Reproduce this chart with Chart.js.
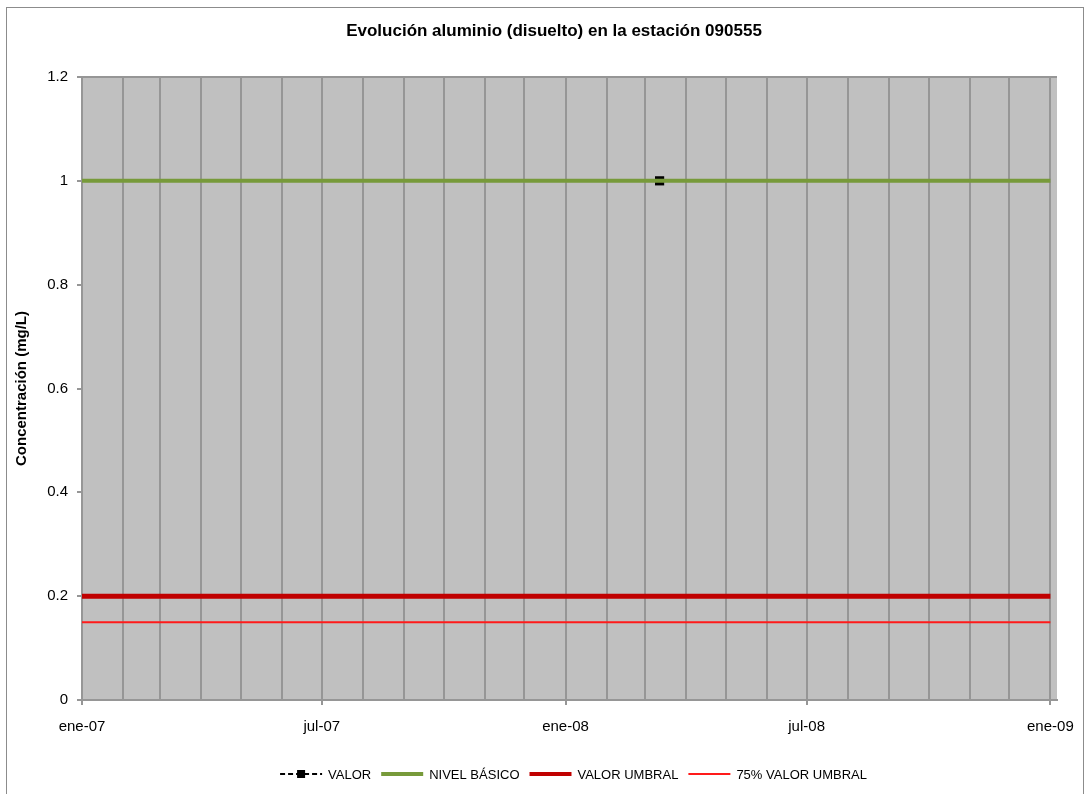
<!DOCTYPE html>
<html>
<head>
<meta charset="utf-8">
<script src="https://cdn.jsdelivr.net/npm/chart.js@4/dist/chart.umd.min.js"></script>
<style>
    html, body { margin: 0; padding: 0; background: #fff; }
    canvas { display: block; }
</style>
</head>
<body>
<canvas id="chart" width="1089" height="794"></canvas>
<script>
    'use strict';

    // Values
    var xTickLabels = ['ene-07', 'jul-07', 'ene-08', 'jul-08', 'ene-09'];
    var xTickDates = ['2007-01-01', '2007-07-01', '2008-01-01', '2008-07-01', '2009-01-01'];
    var valorDates = ['2008-03-12'];
    var valorValues = [1];
    var limitDates = ['2007-01-01', '2008-03-12', '2009-01-01'];
    var nivelBasico = [1, 1, 1];
    var valorUmbral = [0.2, 0.2, 0.2];
    var umbral75 = [0.15, 0.15, 0.15];
    var axisStart = '2007-01-01';
    var axisEnd = '2009-01-06';

    var FONT = '"Liberation Sans", Arial, sans-serif';
    var GRID = '#969696';

    /**
     * Days elapsed since the start of the axis.
     * @param {string} s - ISO date.
     * @returns {number} Day offset.
     */
    function day(s) {
        return (Date.parse(s) - Date.parse(axisStart)) / 86400000;
    }

    // one gridline at the start of every month
    var monthDays = [];
    for (var m = 0; m <= 24; m++) {
        monthDays.push((Date.UTC(2007, m, 1) - Date.parse(axisStart)) / 86400000);
    }
    var labelByDay = {};
    xTickDates.forEach(function(d, i) {
        labelByDay[day(d)] = xTickLabels[i];
    });

    function points(dates, values) {
        return dates.map(function(d, i) {
            return { x: day(d), y: values[i] };
        });
    }

    var backdrop = {
        id: 'backdrop',
        beforeDraw: function(chart) {
            var ctx = chart.ctx, a = chart.chartArea;
            ctx.save();
            ctx.fillStyle = '#fff';
            ctx.fillRect(0, 0, chart.width, chart.height);
            ctx.strokeStyle = '#8c8c8c';
            ctx.lineWidth = 1;
            ctx.strokeRect(6.5, 7.5, 1077, 900);
            ctx.fillStyle = '#c0c0c0';
            ctx.fillRect(a.left, a.top, a.right - a.left, a.bottom - a.top);
            ctx.strokeStyle = GRID;
            ctx.lineWidth = 2;
            ctx.beginPath();
            ctx.moveTo(a.left, a.top);
            ctx.lineTo(a.right, a.top);
            ctx.stroke();
            ctx.restore();
        }
    };

    var legendBar = {
        id: 'legendBar',
        afterDraw: function(chart) {
            var ctx = chart.ctx, a = chart.chartArea;
            var items = [3, 0, 1, 2].map(function(i) { return chart.data.datasets[i]; });
            var iconW = 42, gapText = 6, gapItem = 10, y = 774;
            ctx.save();
            ctx.font = '13px ' + FONT;
            var total = 0;
            items.forEach(function(ds, i) {
                total += iconW + gapText + ctx.measureText(ds.label).width + (i ? gapItem : 0);
            });
            var x = (a.left + a.right) / 2 - total / 2 + 4;
            items.forEach(function(ds) {
                ctx.strokeStyle = ds.borderColor;
                ctx.lineWidth = ds.legendWidth;
                ctx.setLineDash(ds.borderDash || []);
                ctx.beginPath();
                ctx.moveTo(x, y);
                ctx.lineTo(x + iconW, y);
                ctx.stroke();
                ctx.setLineDash([]);
                if (ds.pointRadius) {
                    ctx.fillStyle = '#000';
                    ctx.fillRect(x + iconW / 2 - 4, y - 4, 8, 8);
                }
                ctx.fillStyle = '#000';
                ctx.textBaseline = 'middle';
                ctx.textAlign = 'left';
                ctx.fillText(ds.label, x + iconW + gapText, y + 1);
                x += iconW + gapText + ctx.measureText(ds.label).width + gapItem;
            });
            ctx.restore();
        }
    };

    var chart = new Chart(document.getElementById('chart').getContext('2d'), {
        type: 'line',
        data: {
            datasets: [{
                label: 'NIVEL BÁSICO',
                data: points(limitDates, nivelBasico),
                borderColor: '#779a3a',
                borderWidth: 4,
                legendWidth: 4,
                pointRadius: 0,
                order: 0
            }, {
                label: 'VALOR UMBRAL',
                data: points(limitDates, valorUmbral),
                borderColor: '#c00000',
                borderWidth: 5,
                legendWidth: 4,
                pointRadius: 0,
                order: 1
            }, {
                label: '75% VALOR UMBRAL',
                data: points(limitDates, umbral75),
                borderColor: '#ff1a1a',
                borderWidth: 2,
                legendWidth: 2,
                pointRadius: 0,
                order: 2
            }, {
                label: 'VALOR',
                data: points(valorDates, valorValues),
                borderColor: '#000',
                borderWidth: 2,
                legendWidth: 2,
                borderDash: [5, 3],
                pointStyle: 'rect',
                pointRadius: 6.5,
                pointBorderWidth: 0,
                pointBackgroundColor: '#000',
                order: 3
            }]
        },
        options: {
            responsive: false,
            animation: false,
            layout: { padding: { left: 20, top: 0, right: 1, bottom: 54 } },
            plugins: {
                legend: { display: false },
                tooltip: { enabled: false },
                title: {
                    display: true,
                    text: 'Evolución aluminio (disuelto) en la estación 090555',
                    color: '#000',
                    font: { family: FONT, size: 17, weight: 'bold' },
                    padding: { top: 21, bottom: 35.6 }
                }
            },
            scales: {
                x: {
                    type: 'linear',
                    min: 0,
                    max: day(axisEnd),
                    afterBuildTicks: function(axis) {
                        axis.ticks = monthDays.map(function(v) { return { value: v }; });
                    },
                    afterFit: function(axis) { axis.height = 40; },
                    ticks: {
                        autoSkip: false,
                        maxRotation: 0,
                        padding: 13,
                        color: '#000',
                        font: { family: FONT, size: 15 },
                        callback: function(v) { return labelByDay[v] || ''; }
                    },
                    grid: {
                        color: GRID,
                        lineWidth: 2,
                        tickLength: 5,
                        tickColor: function(c) {
                            return c.tick && labelByDay[c.tick.value] ? GRID : 'rgba(0,0,0,0)';
                        }
                    },
                    border: { color: GRID, width: 2 }
                },
                y: {
                    min: 0,
                    max: 1.2,
                    afterFit: function(axis) { axis.width = 62; },
                    ticks: {
                        stepSize: 0.2,
                        padding: 9,
                        color: '#000',
                        font: { family: FONT, size: 15 },
                        callback: function(v) { return String(Math.round(v * 10) / 10); }
                    },
                    grid: {
                        drawOnChartArea: false,
                        tickLength: 5,
                        color: GRID,
                        lineWidth: 2
                    },
                    border: { color: GRID, width: 2 },
                    title: {
                        display: true,
                        text: 'Concentración (mg/L)',
                        color: '#000',
                        font: { family: FONT, size: 15, weight: 'bold' },
                        padding: { top: -7, bottom: 0 }
                    }
                },
                // empty right-hand gutter so the title centres like the original
                gutter: {
                    position: 'right',
                    min: 0,
                    max: 1,
                    afterFit: function(axis) { axis.width = 31; },
                    ticks: { display: false },
                    grid: { display: false },
                    border: { display: false }
                }
            }
        },
        plugins: [backdrop, legendBar]
    });
</script>
</body>
</html>
